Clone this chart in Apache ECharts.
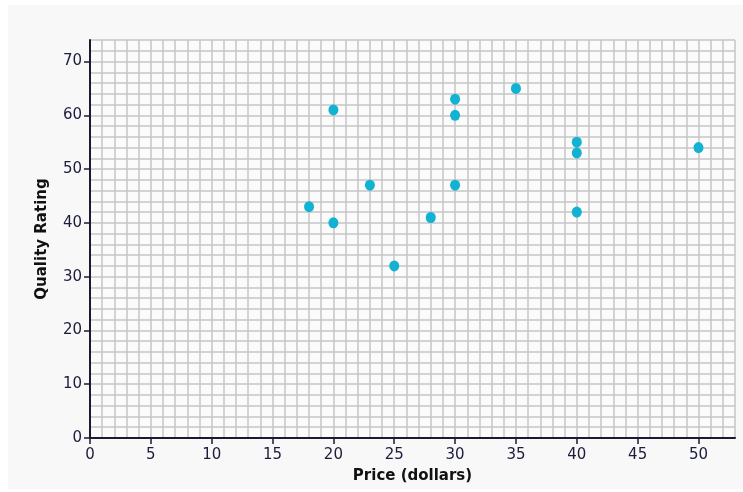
<!DOCTYPE html>
<html>
<head>
<meta charset="utf-8">
<script src="https://cdn.jsdelivr.net/npm/echarts@6/dist/echarts.min.js"></script>
<style>
html,body{margin:0;padding:0;background:#ffffff;}
#chart{width:743px;height:492px;}
</style>
</head>
<body>
<div id="chart"></div>
<script>
const prices = [18, 20, 20, 23, 25, 28, 30, 30, 30, 35, 40, 40, 40, 50];
const ratings = [43, 61, 40, 47, 32, 41, 63, 60, 47, 65, 55, 53, 42, 54];
const xTickValues = [0, 5, 10, 15, 20, 25, 30, 35, 40, 45, 50];
const yTickValues = [0, 10, 20, 30, 40, 50, 60, 70];
const xTitle = 'Price (dollars)';
const yTitle = 'Quality Rating';

const points = prices.map((p, i) => [p, ratings[i]]);
const chart = echarts.init(document.getElementById('chart'));
const labelColor = '#1c1c3c';
const gridLine = {show: true, lineStyle: {color: '#c6c6c6', width: 1.5}};
chart.setOption({
  backgroundColor: '#ffffff',
  animation: false,
  graphic: [{
    type: 'rect', z: -10, silent: true,
    shape: {x: 8, y: 5, width: 735, height: 484},
    style: {fill: '#f8f8f8'}
  }],
  grid: {left: 90, right: 8, top: 40, bottom: 54, containLabel: false, backgroundColor: '#fbfbfb', show: true, borderWidth: 0},
  xAxis: [{
    type: 'value', min: 0, max: 53, interval: 5,
    name: xTitle, nameLocation: 'middle', nameGap: 31,
    nameTextStyle: {fontFamily: 'DejaVu Sans', fontWeight: 'bold', fontSize: 15, color: '#111111'},
    axisLine: {show: true, onZero: false, lineStyle: {color: '#1a1a30', width: 2}},
    axisTick: {show: true, customValues: xTickValues, length: 6, lineStyle: {color: '#1a1a30', width: 1.5}},
    axisLabel: {customValues: xTickValues, margin: 10, fontFamily: 'DejaVu Sans', fontSize: 15, color: labelColor},
    splitLine: {show: false},
    z: 3
  }, {
    type: 'value', min: 0, max: 53, interval: 1, position: 'bottom',
    axisLine: {show: false}, axisTick: {show: false}, axisLabel: {show: false},
    splitLine: gridLine, z: 1
  }],
  yAxis: [{
    type: 'value', min: 0, max: 74, interval: 10,
    name: yTitle, nameLocation: 'middle', nameGap: 40, nameRotate: 90,
    nameTextStyle: {fontFamily: 'DejaVu Sans', fontWeight: 'bold', fontSize: 15, color: '#111111'},
    axisLine: {show: true, onZero: false, lineStyle: {color: '#1a1a30', width: 2}},
    axisTick: {show: true, customValues: yTickValues, length: 6, lineStyle: {color: '#1a1a30', width: 1.5}},
    axisLabel: {customValues: yTickValues, margin: 8, fontFamily: 'DejaVu Sans', fontSize: 15, color: labelColor},
    splitLine: {show: false},
    z: 3
  }, {
    type: 'value', min: 0, max: 74, interval: 2, position: 'left',
    axisLine: {show: false}, axisTick: {show: false}, axisLabel: {show: false},
    splitLine: gridLine, z: 1
  }],
  series: [{
    type: 'scatter',
    xAxisIndex: 0, yAxisIndex: 0,
    data: points,
    symbol: 'circle',
    symbolSize: [10, 11],
    itemStyle: {color: '#12b2d2', opacity: 1},
    z: 5
  }]
});
</script>
</body>
</html>
